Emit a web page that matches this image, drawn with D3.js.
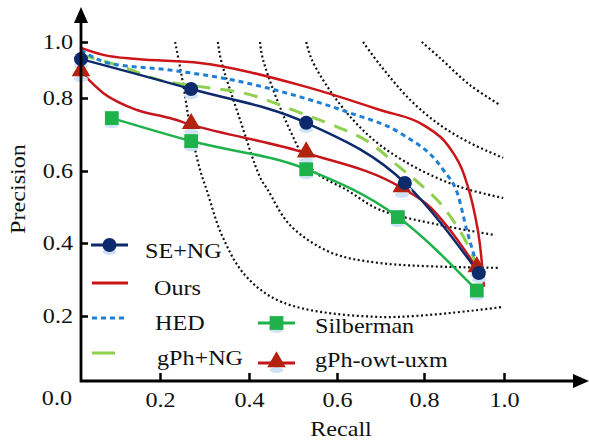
<!DOCTYPE html>
<html>
<head>
<meta charset="utf-8">
<script src="https://cdn.jsdelivr.net/npm/d3@7"></script>
<style>
body { margin: 0; background: #fff; }
svg { display: block; }
text { font-family: "Liberation Serif", "Times New Roman", serif; fill: #111; }
</style>
</head>
<body>
<svg id="chart"></svg>
<script>
// tick labels
var xTicks = [0.2, 0.4, 0.6, 0.8, 1.0]
var yTicks = [0.2, 0.4, 0.6, 0.8, 1.0]

// marker points (recall / precision)
var seRecall = [0.0, 0.27, 0.53, 0.756, 0.937]
var sePrecision = [0.939, 0.832, 0.732, 0.567, 0.318]

var silRecall = [0.078, 0.27, 0.53, 0.74, 0.932]
var silPrecision = [0.745, 0.682, 0.605, 0.472, 0.27]

var owtRecall = [0.0, 0.27, 0.53, 0.749, 0.932]
var owtPrecision = [0.893, 0.727, 0.649, 0.553, 0.332]

// curve path points
var owtLineRecall = [0.0, 0.056, 0.142, 0.222, 0.27, 0.53, 0.749, 0.815, 0.865, 0.932]
var owtLinePrecision = [0.893, 0.818, 0.767, 0.745, 0.727, 0.649, 0.553, 0.5, 0.436, 0.332]

var oursRecall = [0.0, 0.056, 0.142, 0.29, 0.516, 0.699, 0.8, 0.86, 0.9, 0.925, 0.94, 0.95]
var oursPrecision = [0.979, 0.954, 0.939, 0.925, 0.846, 0.767, 0.725, 0.67, 0.59, 0.49, 0.395, 0.28]

var hedRecall = [0.0, 0.068, 0.222, 0.364, 0.516, 0.63, 0.745, 0.848, 0.885, 0.907, 0.925, 0.937]
var hedPrecision = [0.971, 0.925, 0.9, 0.864, 0.804, 0.759, 0.704, 0.603, 0.533, 0.436, 0.367, 0.326]

var gphRecall = [0.0, 0.099, 0.2, 0.297, 0.387, 0.524, 0.6, 0.676, 0.738, 0.798, 0.84, 0.872, 0.907, 0.932]
var gphPrecision = [0.954, 0.914, 0.864, 0.839, 0.818, 0.756, 0.721, 0.677, 0.616, 0.556, 0.511, 0.464, 0.4, 0.34]

// dotted iso-F guide curves, traced as [recall, precision] points
var iso1 = [[0.234, 1.0], [0.252, 0.85], [0.267, 0.726], [0.29, 0.603], [0.305, 0.547], [0.339, 0.422], [0.391, 0.312], [0.475, 0.238], [0.699, 0.197], [0.998, 0.225]]
var iso2 = [[0.33, 1.0], [0.337, 0.936], [0.38, 0.74], [0.425, 0.583], [0.443, 0.547], [0.493, 0.45], [0.584, 0.375], [0.699, 0.345], [0.985, 0.332]]
var iso3 = [[0.425, 1.0], [0.432, 0.936], [0.493, 0.712], [0.545, 0.603], [0.623, 0.547], [0.699, 0.492], [0.84, 0.45], [0.978, 0.422]]
var iso4 = [[0.53, 1.0], [0.543, 0.936], [0.584, 0.827], [0.637, 0.74], [0.699, 0.671], [0.791, 0.603], [0.898, 0.553], [0.998, 0.525]]
var iso5 = [[0.66, 1.0], [0.699, 0.918], [0.768, 0.795], [0.84, 0.726], [0.915, 0.677], [0.998, 0.636]]
var iso6 = [[0.795, 1.0], [0.84, 0.943], [0.915, 0.846], [0.99, 0.781]]

var W = 589, H = 442
var FS = 21, SX = 1.15   // the figure text is a little stretched sideways

var svg = d3.select("#chart").attr("width", W).attr("height", H)

var x = d3.scaleLinear().domain([0, 0.2, 0.4, 0.6, 0.8, 1.0]).range([81, 160, 249, 337, 424, 504])
var y = d3.scaleLinear().domain([0, 0.2, 0.4, 0.6, 0.8, 1.0]).range([381, 316, 243, 171, 98, 42])

var zip = function(a, b) { return a.map(function(v, i) { return [v, b[i]] }) }

var line = d3.line()
    .x(function(d) { return x(d[0]) })
    .y(function(d) { return y(d[1]) })
    .curve(d3.curveMonotoneX)

var guide = d3.line()
    .x(function(d) { return x(d[0]) })
    .y(function(d) { return y(d[1]) })
    .curve(d3.curveCatmullRom.alpha(0.5))

// dotted guides
svg.append("g").selectAll("path")
    .data([iso1, iso2, iso3, iso4, iso5, iso6])
    .enter()
    .append("path")
    .attr("d", guide)
    .attr("fill", "none")
    .attr("stroke", "#111")
    .attr("stroke-width", 2.2)
    .attr("stroke-dasharray", "2,2.6")

var series = [
  {name: "Silberman", pts: zip(silRecall, silPrecision), color: "#1fb24a", dash: null, w: 2.5},
  {name: "gPh-owt-uxm", pts: zip(owtLineRecall, owtLinePrecision), color: "#c4161c", dash: null, w: 2.5},
  {name: "gPh+NG", pts: zip(gphRecall, gphPrecision), color: "#8fd14f", dash: "14,10", w: 3},
  {name: "HED", pts: zip(hedRecall, hedPrecision), color: "#1f7fd4", dash: "5,4", w: 3},
  {name: "SE+NG", pts: zip(seRecall, sePrecision), color: "#0c2a6c", dash: null, w: 2.5},
  {name: "Ours", pts: zip(oursRecall, oursPrecision), color: "#cc1518", dash: null, w: 2.5}
]

svg.append("g").selectAll("path")
    .data(series)
    .enter()
    .append("path")
    .attr("d", function(d) { return line(d.pts) })
    .attr("fill", "none")
    .attr("stroke", function(d) { return d.color })
    .attr("stroke-width", function(d) { return d.w })
    .attr("stroke-dasharray", function(d) { return d.dash })

// markers
var sq = d3.symbol().type(d3.symbolSquare).size(190)
var tri = d3.symbol().type(d3.symbolTriangle).size(150)

var marks = svg.append("g")
// faint bluish shadow under every marker
marks.selectAll(".shadow")
    .data(zip(silRecall, silPrecision).concat(zip(owtRecall, owtPrecision), zip(seRecall, sePrecision)))
    .enter().append("ellipse")
    .attr("cx", function(d) { return x(d[0]) })
    .attr("cy", function(d) { return y(d[1]) + 7 })
    .attr("rx", 7).attr("ry", 3)
    .attr("fill", "#cfe3f7")
marks.selectAll(".sq")
    .data(zip(silRecall, silPrecision))
    .enter().append("path")
    .attr("d", sq)
    .attr("transform", function(d) { return "translate(" + x(d[0]) + "," + y(d[1]) + ")" })
    .attr("fill", "#1fb24a")
marks.selectAll(".tri")
    .data(zip(owtRecall, owtPrecision))
    .enter().append("path")
    .attr("d", tri)
    .attr("transform", function(d) { return "translate(" + x(d[0]) + "," + (y(d[1]) - 1) + ")" })
    .attr("fill", "#b3220f")
marks.selectAll("circle")
    .data(zip(seRecall, sePrecision))
    .enter().append("circle")
    .attr("cx", function(d) { return x(d[0]) })
    .attr("cy", function(d) { return y(d[1]) })
    .attr("r", 7)
    .attr("fill", "#0c2a6c")

// axes
var xAxis = d3.axisBottom(x).tickValues(xTicks).tickSizeInner(-8).tickSizeOuter(0).tickPadding(11).tickFormat(d3.format(".1f"))
var yAxis = d3.axisLeft(y).tickValues(yTicks).tickSizeInner(-7).tickSizeOuter(0).tickPadding(8).tickFormat(d3.format(".1f"))

var gx = svg.append("g").attr("transform", "translate(0,381)").call(xAxis)
var gy = svg.append("g").attr("transform", "translate(81,0)").call(yAxis)
;[gx, gy].forEach(function(g) {
  g.select(".domain").remove()
  g.selectAll(".tick line").attr("stroke", "#000").attr("stroke-width", 2.5)
  g.selectAll("text").attr("font-size", FS).attr("fill", "#111")
    .style("font-family", "'Liberation Serif','Times New Roman',serif")
    .attr("transform", "scale(" + SX + ",1)")
})
gy.selectAll("text").attr("x", -8 / SX)

svg.append("path")
    .attr("d", "M81,12 L81,381 L578,381")
    .attr("fill", "none")
    .attr("stroke", "#000")
    .attr("stroke-width", 2.8)
svg.append("path").attr("d", "M81,7 L74,23 L88,23 Z").attr("fill", "#000")
svg.append("path").attr("d", "M589,381 L573,374 L573,388 Z").attr("fill", "#000")

var label = function(tx, ty, anchor, str, extra) {
  return svg.append("text")
      .attr("transform", "translate(" + tx + "," + ty + ")" + (extra || "") + " scale(" + SX + ",1)")
      .attr("text-anchor", anchor)
      .attr("font-size", FS)
      .text(str)
}
label(72, 405, "end", "0.0")
label(341, 436, "middle", "Recall")
label(25, 189, "middle", "Precision", " rotate(-90)")

// legend
var legend = [
  {name: "SE+NG", color: "#0c2a6c", dash: null, x1: 91, x2: 128, y: 245, tx: 145, ty: 258, mark: "circle"},
  {name: "Ours", color: "#cc1518", dash: null, x1: 92, x2: 128, y: 283, tx: 154, ty: 295, mark: null},
  {name: "HED", color: "#1f7fd4", dash: "5,4", x1: 92, x2: 124, y: 318, tx: 155, ty: 330, mark: null},
  {name: "gPh+NG", color: "#8fd14f", dash: null, x1: 92, x2: 115, y: 353, tx: 157, ty: 365, mark: null},
  {name: "Silberman", color: "#1fb24a", dash: null, x1: 258, x2: 295, y: 323, tx: 315, ty: 333, mark: "square"},
  {name: "gPh-owt-uxm", color: "#c4161c", dash: null, x1: 258, x2: 295, y: 363, tx: 315, ty: 367, mark: "triangle"}
]

var lg = svg.append("g").selectAll("g").data(legend).enter().append("g")
lg.append("line")
    .attr("x1", function(d) { return d.x1 }).attr("x2", function(d) { return d.x2 })
    .attr("y1", function(d) { return d.y }).attr("y2", function(d) { return d.y })
    .attr("stroke", function(d) { return d.color })
    .attr("stroke-width", 3)
    .attr("stroke-dasharray", function(d) { return d.dash })
lg.filter(function(d) { return d.mark }).append("ellipse")
    .attr("cx", function(d) { return (d.x1 + d.x2) / 2 }).attr("cy", function(d) { return d.y + 7 })
    .attr("rx", 7).attr("ry", 3).attr("fill", "#cfe3f7")
lg.filter(function(d) { return d.mark == "circle" }).append("circle")
    .attr("cx", function(d) { return (d.x1 + d.x2) / 2 }).attr("cy", function(d) { return d.y })
    .attr("r", 7).attr("fill", function(d) { return d.color })
lg.filter(function(d) { return d.mark == "square" }).append("path")
    .attr("d", sq).attr("fill", function(d) { return d.color })
    .attr("transform", function(d) { return "translate(" + (d.x1 + d.x2) / 2 + "," + d.y + ")" })
lg.filter(function(d) { return d.mark == "triangle" }).append("path")
    .attr("d", tri).attr("fill", "#b3220f")
    .attr("transform", function(d) { return "translate(" + (d.x1 + d.x2) / 2 + "," + (d.y - 1) + ")" })
lg.append("text")
    .attr("transform", function(d) { return "translate(" + d.tx + "," + d.ty + ") scale(" + SX + ",1)" })
    .attr("font-size", FS)
    .text(function(d) { return d.name })
</script>
</body>
</html>
